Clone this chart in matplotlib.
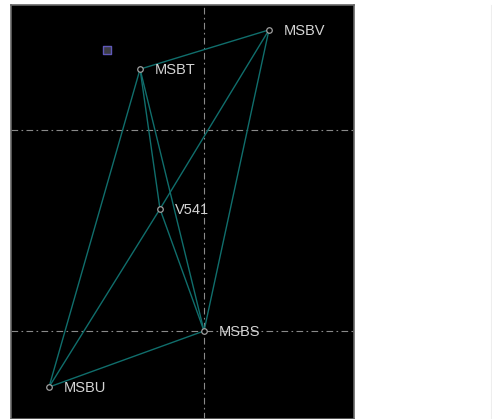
import matplotlib
matplotlib.use('Agg')
import matplotlib.pyplot as plt

# node positions (arbitrary units, MSBS at origin)
names = ['MSBV', 'MSBT', 'V541', 'MSBS', 'MSBU']
xs = [0.323, -0.318, -0.219, 0.0, -0.771]
ys = [1.498, 1.303, 0.607, 0.0, -0.279]

edges = [('MSBV', 'MSBT'), ('MSBV', 'MSBS'), ('MSBV', 'V541'), ('V541', 'MSBU'),
         ('MSBT', 'MSBU'), ('MSBT', 'MSBS'), ('MSBT', 'V541'), ('V541', 'MSBS'),
         ('MSBS', 'MSBU')]

extra_x = [-0.483]
extra_y = [1.398]

fig = plt.figure(figsize=(4.92, 4.19), dpi=100)
fig.patch.set_facecolor('white')
ax = fig.add_axes([11 / 492, 0.0, 343 / 492, 414 / 419])
ax.set_facecolor('black')

pos = dict(zip(names, zip(xs, ys)))
for a, b in edges:
    ax.plot([pos[a][0], pos[b][0]], [pos[a][1], pos[b][1]],
            color='#106e6c', lw=1.0, zorder=2)

ax.scatter(xs, ys, s=16, facecolor='black', edgecolor='#a0a0a0',
           linewidth=0.9, zorder=3)
for n, x, y in zip(names, xs, ys):
    ax.text(x + 0.075, y - 0.003, n, color='#d4d4d4', fontsize=10.5,
            family='Liberation Sans', va='center', ha='left', zorder=4)

ax.scatter(extra_x, extra_y, marker='s', s=30, facecolor='#3c3c44',
           edgecolor='#5f58b8', linewidth=1.0, zorder=3)

ax.set_xlim(-0.96, 0.746)
ax.set_ylim(-0.438, 1.622)
ax.set_xticks([0])
ax.set_yticks([0, 1])
ax.tick_params(length=0, labelbottom=False, labelleft=False)
ax.grid(True, color='#8a8a8a', lw=0.8, linestyle=(0, (6, 3, 1.5, 3)), zorder=1)
for s in ax.spines.values():
    s.set_color('#666666')
    s.set_linewidth(1.2)

fig.add_artist(plt.Line2D([491 / 492, 491 / 492], [0, 414 / 419],
                          color='#eeeeee', lw=0.8))

fig.savefig('out.png', dpi=100, facecolor='white')
